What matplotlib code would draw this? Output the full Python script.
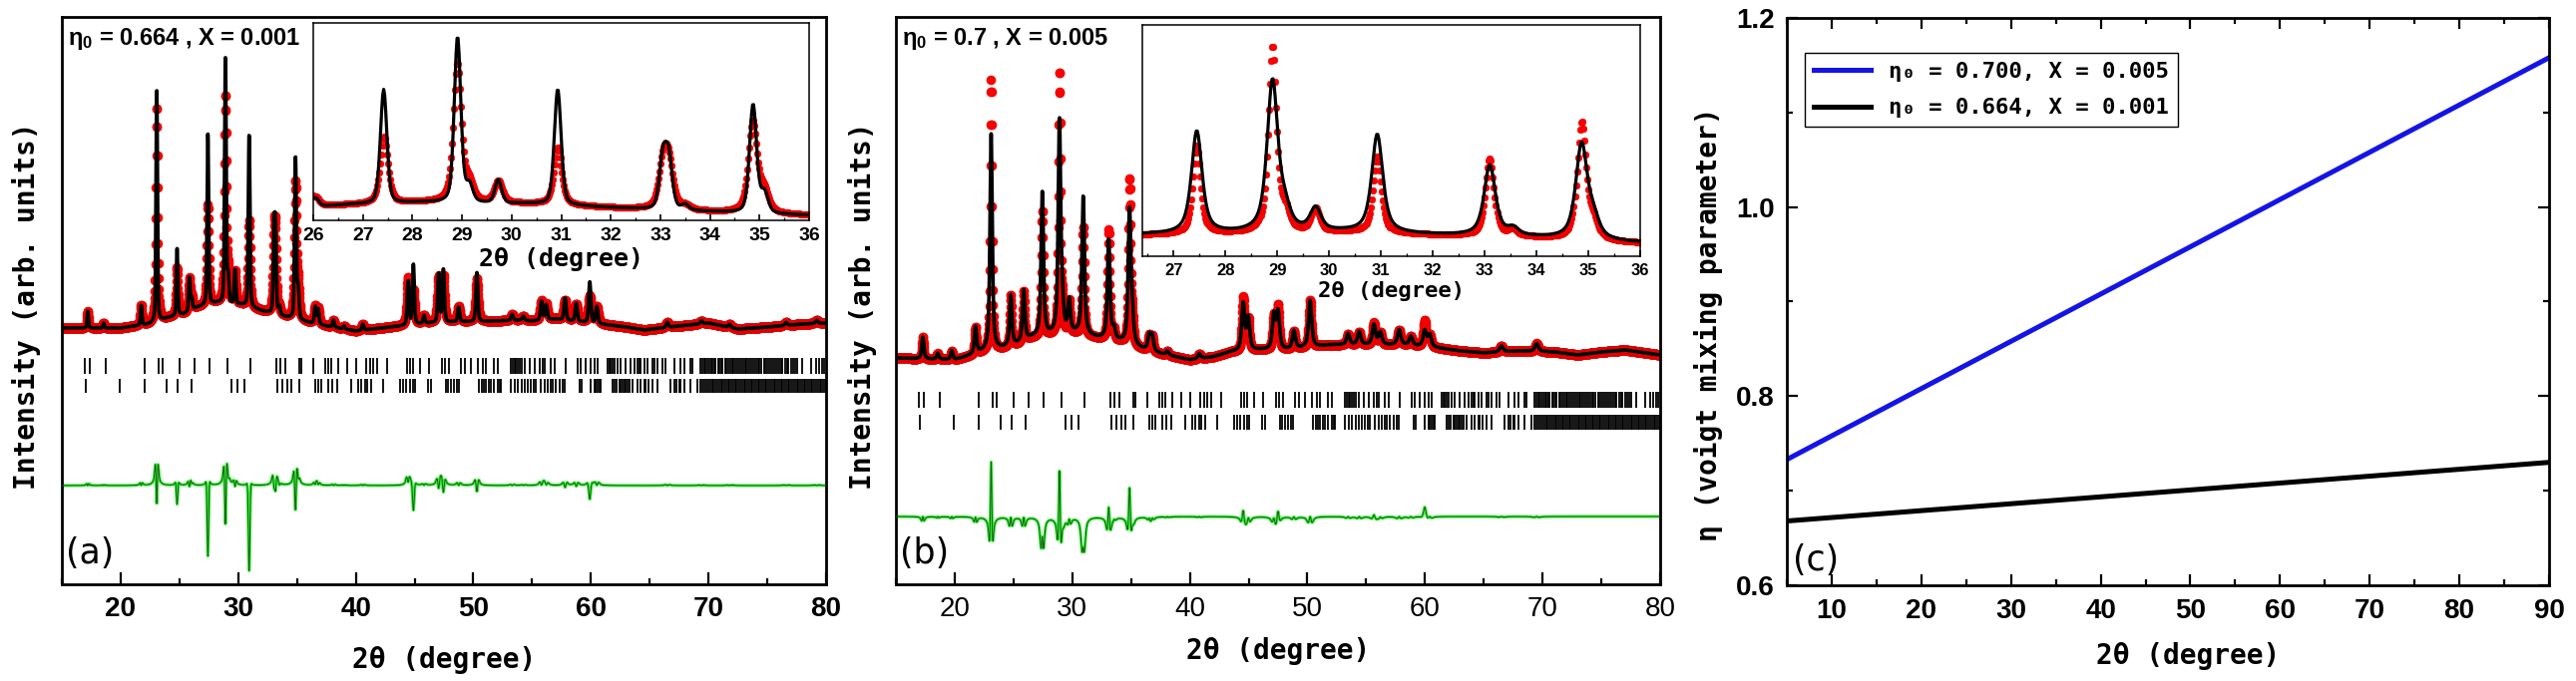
import numpy as np
import matplotlib.pyplot as plt
from matplotlib.ticker import MultipleLocator

plt.rcParams['mathtext.fontset'] = 'custom'
plt.rcParams['mathtext.rm'] = 'Liberation Sans:bold'
plt.rcParams['mathtext.it'] = 'Liberation Sans:bold'
plt.rcParams['mathtext.bf'] = 'Liberation Sans:bold'

# ---------------- data ----------------
# panel (a) : reflections (2theta), calculated and observed heights above background
pos_a  = [17.2, 18.55, 21.75, 23.07, 24.8, 25.85, 26.05, 27.42, 28.91, 29.15, 29.73, 30.93,
          33.05, 33.17, 33.5, 34.87, 35.1, 36.55, 36.8, 38.1, 39.0, 40.6, 44.45, 44.9, 45.8,
          47.05, 47.45, 48.75, 50.3, 53.3, 54.25, 55.8, 56.2, 57.8, 58.75, 59.9, 60.5,
          66.5, 69.4, 71.8, 76.6, 79.2]
calc_a = [17, 5, 20, 235, 67, 34, 12, 171, 249, 25, 35, 174,
          75, 75, 8, 163, 30, 17, 15, 7, 3, 6, 44, 60, 8,
          49, 53, 15, 49, 6, 4, 19, 15, 22, 18, 41, 17,
          5, 3, 3, 3, 3]
obs_a  = [17, 5, 20, 216, 48, 32, 12, 100, 208, 25, 33, 87,
          67, 62, 6, 136, 30, 17, 15, 7, 3, 6, 47, 34, 8,
          45, 45, 15, 43, 6, 4, 19, 15, 20, 17, 27, 17,
          5, 3, 3, 3, 3]
bgx_a = [15, 20, 22.5, 24, 25.4, 26.6, 28.2, 29.5, 30.3, 32, 34, 35.8, 37.5, 40, 43, 46.3,
         48.2, 52, 54, 55, 57, 61.5, 63, 64.5, 67.5, 70, 72.5, 75, 78, 80]
bgy_a = [257, 257, 261, 267, 271, 278, 282, 280, 280, 274, 268, 263, 259, 254, 258, 262,
         263, 264, 265, 264, 266, 260, 258, 255, 259, 262, 256, 258, 261, 262]

# panel (b)
pos_b  = [17.29, 18.56, 19.75, 21.77, 23.1, 24.77, 25.87, 27.45, 28.91, 29.15, 29.74, 30.93,
          33.1, 33.55, 34.87, 35.1, 36.55, 36.8, 38.1, 40.8, 44.54, 44.97, 47.15, 47.5,
          48.85, 50.23, 53.46, 54.4, 55.66, 56.2, 57.8, 58.8, 59.98, 60.4, 66.5, 69.5]
calc_b = [22, 6, 9, 27, 217, 51, 51, 145, 213, 25, 32, 139,
          100, 10, 133, 25, 15, 15, 4, 5, 47, 32, 34, 37,
          18, 47, 11, 13, 20, 12, 15, 9, 16, 12, 6, 8]
obs_b  = [22, 6, 9, 27, 272, 51, 51, 126, 263, 25, 32, 109,
          110, 10, 165, 25, 15, 15, 4, 5, 54, 32, 34, 44,
          18, 47, 11, 13, 22, 12, 15, 9, 26, 12, 6, 8]
bgx_b = [15, 17, 20, 22.5, 24, 25.3, 26.6, 28.2, 30.3, 32, 34, 35.8, 37.5, 40, 42, 43.5,
         46, 48.3, 52, 55, 58, 61, 63, 65, 68, 71, 73, 75, 77, 80]
bgy_b = [227, 226, 225, 233, 236, 240, 247, 249, 251, 247, 243, 236, 231, 225, 228, 233,
         235, 235, 240, 240, 240, 237, 234, 232, 234, 233, 230, 233, 235, 230]

# Bragg reflection markers (two phases)
bragg1 = [16.93, 17.41, 18.77, 22.08, 23.27, 23.58, 25.05, 26.27, 27.55, 29.07, 31.06, 33.27,
          33.55, 34.03, 35.16, 35.39, 36.38, 37.37, 37.66, 37.88, 38.51, 39.3, 40.06, 40.91,
          41.2, 41.48, 41.85, 42.7, 44.4, 44.6, 44.88, 45.45, 46.21, 47.29, 47.57, 47.96,
          48.96, 49.24, 49.81, 50.37, 50.8, 51.08, 51.73, 52.07, 53.2, 53.35, 53.49, 53.63,
          53.77, 53.91, 54.11, 54.34, 54.76, 55.19, 55.61, 55.9, 56.04, 56.6, 56.89, 57.88,
          58.87, 59.15, 59.58, 60.0, 60.28, 60.57, 61.42, 61.56, 61.7, 61.84, 61.98, 62.27,
          62.55, 62.97, 63.4, 63.68, 63.97, 64.11, 64.25, 64.53, 64.82, 65.24, 65.38, 65.67,
          66.09, 66.37, 67.08, 67.65, 67.93, 68.5, 68.64, 69.35, 69.49, 69.63, 69.77, 69.91,
          70.05, 70.2, 70.35, 70.5, 70.6, 70.8, 70.95, 71.1, 71.2, 71.4, 71.55, 71.7, 71.85,
          72.0, 72.1, 72.3, 72.45, 72.6, 72.8, 72.95, 73.1, 73.25, 73.4, 73.55, 73.7, 73.9,
          74.05, 74.2, 74.35, 74.5, 74.7, 74.85, 75.0, 75.15, 75.3, 75.5, 75.65, 75.8, 76.0,
          76.15, 76.3, 76.5, 76.65, 76.8, 77.0, 77.2, 77.4, 77.56, 77.98, 78.69, 79.12, 79.4,
          79.68, 79.85]
bragg2 = [17.04, 19.96, 22.02, 23.92, 24.86, 26.05, 29.39, 29.93, 30.52, 33.35, 33.75, 34.17,
          34.54, 35.16, 36.58, 36.81, 37.09, 37.66, 38.0, 38.45, 39.58, 40.2, 40.49, 40.77,
          41.0, 41.34, 42.33, 43.75, 44.03, 44.31, 44.6, 44.88, 45.08, 46.15, 46.38, 47.68,
          47.88, 48.11, 48.39, 48.62, 48.81, 50.51, 50.71, 50.88, 51.08, 51.36, 51.5, 51.73,
          52.07, 52.21, 52.35, 53.2, 53.49, 53.77, 54.11, 54.34, 54.62, 54.9, 55.13, 55.33,
          55.7, 56.04, 56.32, 56.55, 56.74, 57.03, 57.31, 57.59, 57.79, 59.01, 59.21, 60.0,
          60.28, 60.43, 60.57, 60.71, 60.85, 61.84, 61.98, 62.21, 62.41, 62.55, 62.69, 62.83,
          62.97, 63.12, 63.26, 63.54, 63.97, 64.25, 64.53, 64.67, 64.87, 65.24, 65.67, 66.8,
          67.08, 67.31, 67.51, 67.65, 67.93, 68.5, 69.06, 69.35, 69.5, 69.65, 69.8, 70.0,
          70.15, 70.3, 70.45, 70.6, 70.75, 70.9, 71.05, 71.2, 71.35, 71.5, 71.65, 71.8, 71.95,
          72.1, 72.25, 72.4, 72.55, 72.7, 72.85, 73.0, 73.15, 73.3, 73.45, 73.6, 73.75, 73.9,
          74.05, 74.2, 74.35, 74.5, 74.65, 74.8, 74.95, 75.1, 75.25, 75.4, 75.55, 75.7, 75.85,
          76.0, 76.15, 76.3, 76.45, 76.6, 76.75, 76.9, 77.05, 77.2, 77.35, 77.5, 77.65, 77.8,
          77.95, 78.1, 78.25, 78.4, 78.55, 78.7, 78.85, 79.0, 79.15, 79.3, 79.45, 79.6, 79.75,
          79.9]

# panel (c) : eta versus 2theta
two_theta_c = [5, 90]
eta_700 = [0.733, 1.158]
eta_664 = [0.668, 0.730]

xt_main = [20, 30, 40, 50, 60, 70, 80]
xt_c = [10, 20, 30, 40, 50, 60, 70, 80, 90]
yt_c = [0.6, 0.8, 1.0, 1.2]
xt_ins_a = [26, 27, 28, 29, 30, 31, 32, 33, 34, 35, 36]
xt_ins_b = [27, 28, 29, 30, 31, 32, 33, 34, 35, 36]


def pvoigt(x, p, h, fwhm, eta):
    s = fwhm / 2.0
    u = ((x - p) / s) ** 2
    return h * (eta / (1 + u) + (1 - eta) * np.exp(-np.log(2) * u))


def pattern(x, pos, hts, fw0, fw1, eta, bgx, bgy):
    y = np.interp(x, bgx, bgy)
    for p, h in zip(pos, hts):
        y = y + pvoigt(x, p, h, fw0 + fw1 * (p - 20), eta)
    return y


tt = np.arange(15, 80.001, 0.02)
yobs_a = pattern(tt, pos_a, obs_a, 0.165, 0.003, 0.55, bgx_a, bgy_a)
ycal_a = pattern(tt, pos_a, calc_a, 0.14, 0.002, 0.35, bgx_a, bgy_a)
yobs_b = pattern(tt, pos_b, obs_b, 0.16, 0.003, 0.6, bgx_b, bgy_b)
ycal_b = pattern(tt, pos_b, calc_b, 0.22, 0.003, 0.7, bgx_b, bgy_b)

W, H = 2582.0, 683.0
fig = plt.figure(figsize=(W / 100, H / 100), dpi=100)

mono = 'DejaVu Sans Mono'
sansb = ['Liberation Sans Narrow', 'Liberation Sans', 'DejaVu Sans']


def main_panel(left, yobs, ycal, diff0, r1, r2, note, letter, bold_ticks, ylab_x, xlab_y):
    ax = fig.add_axes([left / W, 1 - 586 / H, 766 / W, 569 / H])
    ax.plot(tt, yobs, 'o', color='red', ms=6.5, mec='#dd0000', mew=0.4, zorder=2)
    ax.plot(tt, ycal, '-', color='black', lw=2.6, zorder=3)
    d = yobs - ycal + diff0
    ax.plot(tt, d, '-', color='#33ee33', lw=2.2, zorder=2)
    ax.plot(tt, d, '-', color='#1d5e1d', lw=0.7, zorder=3)
    ax.vlines(bragg1, r1[0], r1[1], color='black', lw=1.3)
    ax.vlines(bragg2, r2[0], r2[1], color='black', lw=1.3)
    ax.set_xlim(15, 80)
    ax.set_ylim(0, 569)
    ax.set_yticks([])
    ax.set_xticks(xt_main, labels=[str(v) for v in xt_main], fontsize=20,
                  fontweight='bold' if bold_ticks else 'normal', family='Liberation Sans')
    ax.xaxis.set_minor_locator(MultipleLocator(5))
    ax.tick_params(axis='x', which='major', direction='in', length=9, width=1.6, pad=9)
    ax.tick_params(axis='x', which='minor', direction='in', length=4.5, width=1.6)
    for sp in ax.spines.values():
        sp.set_linewidth(2)
    ax.set_xlabel('2θ (degree)', fontsize=20, fontweight='bold', family=mono)
    ax.xaxis.set_label_coords(0.5, xlab_y)
    ax.set_ylabel('Intensity (arb. units)', fontsize=20, fontweight='bold', family=mono)
    ax.yaxis.set_label_coords(ylab_x, 0.49)
    ax.text(0.008, 0.985, note, transform=ax.transAxes, ha='left', va='top',
            fontsize=17, fontweight='bold', family=sansb)
    ax.text(0.005, 0.025, letter, transform=ax.transAxes, ha='left', va='bottom',
            fontsize=25, family='DejaVu Sans')
    return ax


def inset(rect, yobs, ycal, xlim, ylim, xt, lab_y, fs):
    ai = fig.add_axes([rect[0] / W, 1 - rect[3] / H, (rect[2] - rect[0]) / W, (rect[3] - rect[1]) / H])
    ai.plot(tt, yobs, 'o', color='red', ms=4.8, mec='#dd0000', mew=0.4, zorder=2)
    ai.plot(tt, ycal, '-', color='black', lw=2.3, zorder=3)
    ai.set_xlim(*xlim)
    ai.set_ylim(*ylim)
    ai.set_yticks([])
    ai.set_xticks(xt, labels=[str(v) for v in xt], fontsize=fs, fontweight='bold', family='Liberation Sans')
    ai.xaxis.set_minor_locator(MultipleLocator(0.5))
    ai.tick_params(axis='x', which='major', direction='in', length=4.5, width=1.2, pad=5)
    ai.tick_params(axis='x', which='minor', direction='in', length=2.5, width=1.0)
    for sp in ai.spines.values():
        sp.set_linewidth(1.1)
    ai.set_xlabel('2θ (degree)', fontsize=fs + 4, fontweight='bold', family=mono)
    ai.xaxis.set_label_coords(0.5, lab_y)
    return ai


ax_a = main_panel(62, yobs_a, ycal_a, 99, (211, 227), (192, 206),
                  'η$_0$ = 0.664 , X = 0.001', '(a)', True, -0.027, -0.109)
inset((314, 23, 811, 221), yobs_a, ycal_a, (26, 36), (255, 551), xt_ins_a, -0.136, 14)

ax_b = main_panel(898, yobs_b, ycal_b, 68, (177, 193), (155, 170),
                  'η$_0$ = 0.7 , X = 0.005', '(b)', False, -0.025, -0.093)
inset((1145, 25, 1644, 257), yobs_b, ycal_b, (26.4, 36), (217, 544), xt_ins_b, -0.108, 12)

# panel (c)
ax_c = fig.add_axes([1791 / W, 1 - 587 / H, 764 / W, 569 / H])
ax_c.plot(two_theta_c, eta_700, color='#1414e6', lw=3.6, label='η₀ = 0.700, X = 0.005')
ax_c.plot(two_theta_c, eta_664, color='black', lw=3.6, label='η₀ = 0.664, X = 0.001')
ax_c.set_xlim(5, 90)
ax_c.set_ylim(0.6, 1.2)
ax_c.set_xticks(xt_c, labels=[str(v) for v in xt_c], fontsize=20, fontweight='bold', family='Liberation Sans')
ax_c.set_yticks(yt_c, labels=['%.1f' % v for v in yt_c], fontsize=20, fontweight='bold', family='Liberation Sans')
ax_c.xaxis.set_minor_locator(MultipleLocator(5))
ax_c.yaxis.set_minor_locator(MultipleLocator(0.1))
ax_c.tick_params(which='major', direction='in', length=8, width=1.6, top=True, right=True, pad=9)
ax_c.tick_params(which='minor', direction='in', length=4, width=1.6, top=True, right=True)
for sp in ax_c.spines.values():
    sp.set_linewidth(2)
ax_c.set_xlabel('2θ (degree)', fontsize=20, fontweight='bold', family=mono)
ax_c.xaxis.set_label_coords(0.526, -0.100)
ax_c.set_ylabel('η (voigt mixing parameter)', fontsize=20, fontweight='bold', family=mono)
ax_c.yaxis.set_label_coords(-0.084, 0.46)
leg = ax_c.legend(loc='upper left', bbox_to_anchor=(0.0, 0.97), fancybox=False, edgecolor='black',
                  prop={'family': mono, 'weight': 'bold', 'size': 16}, handlelength=2.6,
                  borderaxespad=0.8, labelspacing=0.75, framealpha=1)
leg.get_frame().set_linewidth(1.0)
ax_c.text(0.008, 0.014, '(c)', transform=ax_c.transAxes, ha='left', va='bottom',
          fontsize=25, family='DejaVu Sans')

fig.savefig('out.png', dpi=100)
